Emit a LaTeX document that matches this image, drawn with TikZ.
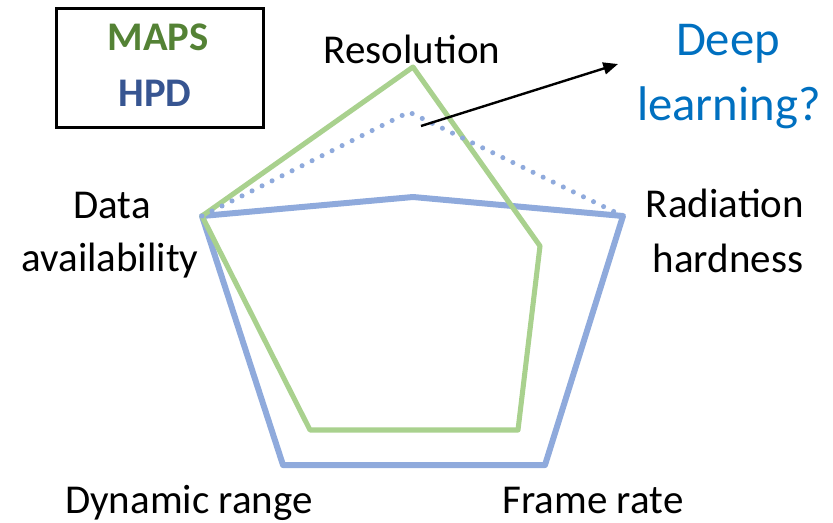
\documentclass[tikz,border=0pt]{standalone}
\usepackage{fontspec}
\setmainfont{Carlito}
\usetikzlibrary{arrows.meta}
\definecolor{lgreen}{RGB}{169,209,142}
\definecolor{lblue}{RGB}{143,170,220}
\definecolor{dlblue}{RGB}{0,112,192}
\definecolor{mapsgreen}{RGB}{84,130,53}
\definecolor{hpdblue}{RGB}{55,85,145}
\tikzset{
  lbl/.style={anchor=base, inner sep=0pt, font=\fontsize{30.75}{40}\selectfont},
  qlbl/.style={anchor=base, inner sep=0pt, text=dlblue, font=\fontsize{36.5}{46}\selectfont},
  leg/.style={anchor=base, inner sep=0pt, font=\fontsize{30.5}{38}\bfseries\selectfont},
  bluepoly/.style={draw=lblue, line width=4.5pt, line join=round},
  greenpoly/.style={draw=lgreen, line width=3.8pt, line join=round},
  dotpoly/.style={draw=lblue, line width=3.8pt, line cap=round, dash pattern=on 0pt off 8.4pt},
  arr/.style={draw=black, line width=1.8pt, -{Triangle[length=11pt,width=9pt]}},
  legbox/.style={draw=black, line width=2.2pt}
}
\begin{document}
\begin{tikzpicture}[x=0.75pt,y=-0.75pt]
\useasboundingbox (0,0) rectangle (833,522);
% legend
\node[legbox, minimum width=155pt, minimum height=89pt, anchor=north west, inner sep=0pt] (box) at (55,7) {};
\node[leg, text=mapsgreen] (maps) at (158,50) {MAPS};
\node[leg, text=hpdblue] (hpd) at (155,106) {HPD};
% blue solid pentagon
\coordinate (bt) at (413,197);
\coordinate (bl) at (202,216);
\coordinate (br) at (623,216);
\coordinate (bbl) at (283,465);
\coordinate (bbr) at (545,465);
\draw[bluepoly] (bl) -- (bt) -- (br) -- (bbr) -- (bbl) -- cycle;
% green pentagon
\coordinate (gt) at (413,67);
\coordinate (gr) at (540,246);
\coordinate (gbr) at (518,430);
\coordinate (gbl) at (310,430);
\draw[greenpoly] (bl) -- (gt) -- (gr) -- (gbr) -- (gbl) -- cycle;
% dotted
\coordinate (dt) at (409,112);
\draw[dotpoly] (bl) -- (dt) -- (br);
% arrow
\coordinate (as) at (421,126);
\coordinate (ae) at (618,64);
\draw[arr] (as) -- (ae);
% labels
\node[lbl] (res) at (412,63) {Resolution};
\node[qlbl] (deep) at (728,55) {Deep};
\node[qlbl] (learn) at (729,120) {learning?};
\node[lbl] (data) at (112,218) {Data};
\node[lbl] (avail) at (110,271) {availability};
\node[lbl] (rad) at (725,217) {Radiation};
\node[lbl] (hard) at (728,272) {hardness};
\node[lbl] (dyn) at (189,513) {Dynamic range};
\node[lbl] (frame) at (593,513) {Frame rate};
\end{tikzpicture}
\end{document}
